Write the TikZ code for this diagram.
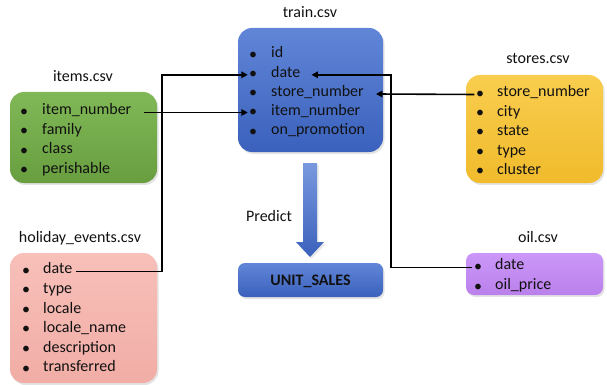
\documentclass[tikz,border=0pt]{standalone}
\usepackage{fontspec}
\setmainfont{Carlito}
\usetikzlibrary{shadows,arrows.meta}
\definecolor{trainA}{HTML}{6186D8}
\definecolor{trainB}{HTML}{3A61BC}
\definecolor{greenA}{HTML}{80B857}
\definecolor{greenB}{HTML}{689E3F}
\definecolor{yelA}{HTML}{F9CD4E}
\definecolor{yelB}{HTML}{F0BB2C}
\definecolor{pinkA}{HTML}{F7C0B9}
\definecolor{pinkB}{HTML}{F1ADA6}
\definecolor{purA}{HTML}{CB97F8}
\definecolor{purB}{HTML}{BA80EC}
\definecolor{txt}{HTML}{111111}
\begin{document}
\begin{tikzpicture}[x=1pt,y=-1pt,
  font=\fontsize{16}{19}\selectfont, text=txt,
  tbl/.style={rounded corners=14pt, drop shadow={opacity=0.22,shadow xshift=1.5pt,shadow yshift=-2pt}},
  fld/.style={anchor=mid west, inner sep=0pt, yshift=-3.5pt},
  bul/.style={anchor=center, inner sep=0pt, yshift=-3.5pt},
  ttl/.style={anchor=mid, inner sep=0pt, yshift=-3.5pt},
  conn/.style={line width=1.6pt, draw=black, -{Triangle[length=6.5pt,width=6.5pt]}}]
\useasboundingbox (0,0) rectangle (607,385);

% ---------- boxes ----------
\path[tbl, top color=trainA, bottom color=trainB] (238,28) rectangle (383,152);
\path[tbl, top color=greenA, bottom color=greenB] (10,92) rectangle (157,183);
\path[tbl, top color=yelA, bottom color=yelB] (466,75) rectangle (603,183);
\path[tbl, top color=pinkA, bottom color=pinkB] (10,253) rectangle (157,383);
\path[tbl, top color=purA, bottom color=purB, rounded corners=8pt] (466,253) rectangle (603,295);
\path[tbl, top color=trainA, bottom color=trainB, rounded corners=7pt] (238,263) rectangle (383,297);

% big arrow
\path[top color=trainA!85, bottom color=trainB, drop shadow={opacity=0.18,shadow xshift=1.5pt,shadow yshift=-2pt}]
  (303,163) -- (317,163) -- (317,242) -- (324,242) -- (310,257) -- (296,242) -- (303,242) -- cycle;

% ---------- titles ----------
\node[ttl] (t-train) at (310,12) {train.csv};
\node[ttl] (t-items) at (83,76) {items.csv};
\node[ttl] (t-stores) at (538,58) {stores.csv};
\node[ttl] (t-hol) at (80,237) {holiday\_events.csv};
\node[ttl] (t-oil) at (538,237) {oil.csv};
\node[ttl] (predict) at (269,216) {Predict};
\node[ttl, font=\fontsize{16}{19}\selectfont\bfseries] (unit) at (310.5,280) {UNIT\_SALES};

% ---------- train ----------
\node[bul] (trb-id) at (253,52) {•};      \node[fld] (tr-id) at (271,52) {id};
\node[bul] (trb-date) at (253,71.3) {•};  \node[fld] (tr-date) at (271,71.3) {date};
\node[bul] (trb-num) at (253,90.5) {•};   \node[fld] (tr-num) at (271,90.5) {store\_number};
\node[bul] (trb-item) at (253,109.8) {•}; \node[fld] (tr-item) at (271,109.8) {item\_number};
\node[bul] (trb-promo) at (253,129) {•};  \node[fld] (tr-promo) at (271,129) {on\_promotion};

% ---------- items ----------
\node[bul] (itb-item) at (24,109) {•};   \node[fld] (it-item) at (42,109) {item\_number};
\node[bul] (itb-fam) at (24,128.5) {•};  \node[fld] (it-fam) at (42,128.5) {family};
\node[bul] (itb-cls) at (24,148) {•};    \node[fld] (it-cls) at (42,148) {class};
\node[bul] (itb-per) at (24,167.5) {•};  \node[fld] (it-per) at (42,167.5) {perishable};

% ---------- stores ----------
\node[bul] (stb-num) at (480,91) {•};      \node[fld] (st-num) at (497,91) {store\_number};
\node[bul] (stb-city) at (480,110.4) {•};  \node[fld] (st-city) at (497,110.4) {city};
\node[bul] (stb-state) at (480,129.8) {•}; \node[fld] (st-state) at (497,129.8) {state};
\node[bul] (stb-type) at (480,149.2) {•};  \node[fld] (st-type) at (497,149.2) {type};
\node[bul] (stb-clu) at (480,168.6) {•};   \node[fld] (st-clu) at (497,168.6) {cluster};

% ---------- holiday ----------
\node[bul] (hdb-date) at (26,268) {•};    \node[fld] (hd-date) at (43,268) {date};
\node[bul] (hdb-type) at (26,287.6) {•};  \node[fld] (hd-type) at (43,287.6) {type};
\node[bul] (hdb-loc) at (26,307.2) {•};   \node[fld] (hd-loc) at (43,307.2) {locale};
\node[bul] (hdb-locn) at (26,326.8) {•};  \node[fld] (hd-locn) at (43,326.8) {locale\_name};
\node[bul] (hdb-desc) at (26,346.4) {•};  \node[fld] (hd-desc) at (43,346.4) {description};
\node[bul] (hdb-tr) at (26,366) {•};      \node[fld] (hd-tr) at (43,366) {transferred};

% ---------- oil ----------
\node[bul] (oilb-date) at (478,264) {•};  \node[fld] (oil-date) at (495,264) {date};
\node[bul] (oilb-price) at (478,284) {•}; \node[fld] (oil-price) at (495,284) {oil\_price};

% ---------- connectors ----------
\coordinate (jl) at (162,0);
\coordinate (jr) at (391,0);
\coordinate (itS) at ([xshift=12pt]it-item.mid east);
\coordinate (hdS) at ([xshift=4pt]hd-date.mid east);
\coordinate (trDateE) at ([xshift=11pt]tr-date.mid east);
\coordinate (trNumE) at ([xshift=12pt]tr-num.mid east);

\draw[conn, shorten >=1pt] (itS) -- (itS -| trb-item.west);
\draw[conn, shorten >=1pt] (hdS) -- (hdS -| jl) |- (trb-date.west);
\draw[conn, shorten <=1.5pt] (oilb-date.west) -- (oilb-date.west -| jr) |- (trDateE);
\draw[conn, shorten <=1.5pt] (stb-num.west) -- (trNumE);
\end{tikzpicture}
\end{document}
